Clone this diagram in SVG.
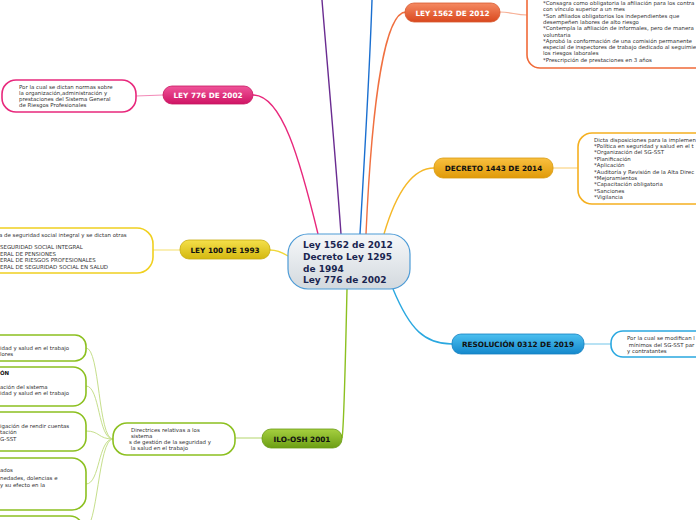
<svg xmlns="http://www.w3.org/2000/svg" width="696" height="520" viewBox="0 0 696 520">
<defs>
<linearGradient id="gC" x1="0" y1="0" x2="0" y2="1"><stop offset="0" stop-color="#f6f8fa"/><stop offset="1" stop-color="#d3d9de"/></linearGradient>
<linearGradient id="gO" x1="0" y1="0" x2="0" y2="1"><stop offset="0" stop-color="#f58a62"/><stop offset="1" stop-color="#d9481e"/></linearGradient>
<linearGradient id="gP" x1="0" y1="0" x2="0" y2="1"><stop offset="0" stop-color="#f0559a"/><stop offset="1" stop-color="#cf1464"/></linearGradient>
<linearGradient id="gY" x1="0" y1="0" x2="0" y2="1"><stop offset="0" stop-color="#f5e04a"/><stop offset="1" stop-color="#d4b810"/></linearGradient>
<linearGradient id="gD" x1="0" y1="0" x2="0" y2="1"><stop offset="0" stop-color="#f9c040"/><stop offset="1" stop-color="#e09a08"/></linearGradient>
<linearGradient id="gB" x1="0" y1="0" x2="0" y2="1"><stop offset="0" stop-color="#4cc0f0"/><stop offset="1" stop-color="#1488cc"/></linearGradient>
<linearGradient id="gG" x1="0" y1="0" x2="0" y2="1"><stop offset="0" stop-color="#a6d040"/><stop offset="1" stop-color="#6c9e14"/></linearGradient>
</defs>
<style>
.lab{font-family:"DejaVu Sans",Verdana,sans-serif;font-weight:bold;font-size:7.3px;text-anchor:middle}
.w{fill:#ffffff}.k{fill:#111111}
.sm{font-family:"DejaVu Sans",Verdana,sans-serif;font-size:5.45px;fill:#333333}
.det{fill:#ffffff;stroke-width:1.6}
.c{fill:none;stroke-width:1.4}
.cl{fill:none;stroke-width:1.2;opacity:.55}
.gl{fill:none;stroke:#c6df8c;stroke-width:1}
</style>
<g id="connectors">
<path class="c" stroke="#6a2c91" d="M341,234 C335,150 326,50 322,0"/>
<path class="c" stroke="#1a6fd0" d="M360,234 C365,150 370,60 372,0"/>
<path class="c" stroke="#f07040" d="M366,234 C372,100 385,12 406,12"/>
<path class="c" stroke="#e8287c" d="M318,234 C300,160 282,95 253,95"/>
<path class="c" stroke="#f0d838" d="M288,256 C280,251 276,250 270,250"/>
<path class="c" stroke="#f5b828" d="M384,234 C394,200 410,168 434,168"/>
<path class="c" stroke="#2aa8e0" d="M393,289 C410,330 425,344 452,344"/>
<path class="c" stroke="#8cc020" d="M347,289 C345,380 344,430 342,438"/>
<path class="cl" stroke="#f07040" d="M500,12 C512,12 515,15 527,15"/>
<path class="cl" stroke="#e8287c" d="M163,95 L136,96"/>
<path class="cl" stroke="#f0d020" d="M180,250 L153,250"/>
<path class="cl" stroke="#f5b020" d="M553,168 L578,168"/>
<path class="cl" stroke="#2aa8e0" d="M584,344 L611,344"/>
<path class="cl" stroke="#8cc020" d="M262,438 L235,438"/>
<path class="gl" d="M113,439 C98,439 100,348 86,348"/>
<path class="gl" d="M113,439 C98,439 100,386 86,386"/>
<path class="gl" d="M113,439 C98,439 100,431 86,431"/>
<path class="gl" d="M113,439 C98,439 100,484 86,484"/>
<path class="gl" d="M113,439 C98,439 98,530 84,530"/>
</g>
<g id="center">
<rect x="288" y="234" width="122" height="55" rx="20" fill="url(#gC)" stroke="#4d9bd6" stroke-width="1.2"/>
<text font-family="DejaVu Sans,Verdana,sans-serif" font-weight="bold" font-size="9" fill="#1a2550"><tspan x="303" y="248">Ley 1562 de 2012</tspan><tspan x="303" y="260">Decreto Ley 1295</tspan><tspan x="303" y="272">de 1994</tspan><tspan x="303" y="283">Ley 776 de 2002</tspan></text>
</g>
<g id="ley1562">
<rect x="405" y="3" width="95" height="19" rx="9" fill="url(#gO)" stroke="#d85a30" stroke-width=".8"/>
<text class="lab w" x="452.5" y="15.5">LEY 1562 DE 2012</text>
<rect class="det" x="527" y="-12" width="190" height="80" rx="13" stroke="#f06a38"/>
<text class="sm"><tspan x="543" y="5">*Consagra como obligatoria la afiliación para los contra</tspan><tspan x="543" y="11.3">con vínculo superior a un mes</tspan><tspan x="543" y="17.6">*Son afiliados obligatorios los independientes que</tspan><tspan x="543" y="23.9">desempeñen labores de alto riesgo</tspan><tspan x="543" y="30.2">*Contempla la afiliación de informales, pero de manera</tspan><tspan x="543" y="36.5">voluntaria</tspan><tspan x="543" y="42.8">*Aprobó la conformación de una comisión permanente</tspan><tspan x="543" y="49.1">especial de inspectores de trabajo dedicado al seguimie</tspan><tspan x="543" y="55.4">los riesgos laborales</tspan><tspan x="543" y="61.7">*Prescripción de prestaciones en 3 años</tspan></text>
</g>
<g id="ley776">
<rect x="163" y="86" width="90" height="18" rx="9" fill="url(#gP)" stroke="#c81460" stroke-width=".8"/>
<text class="lab w" x="208" y="98">LEY 776 DE 2002</text>
<rect class="det" x="2" y="80" width="134" height="32" rx="14" stroke="#e8287c"/>
<text class="sm"><tspan x="19" y="89">Por la cual se dictan normas sobre</tspan><tspan x="19" y="95">la organización,administración y</tspan><tspan x="19" y="101">prestaciones del Sistema General</tspan><tspan x="19" y="107">de Riesgos Profesionales</tspan></text>
</g>
<g id="ley100">
<rect x="180" y="240" width="90" height="19" rx="9" fill="url(#gY)" stroke="#c8ac10" stroke-width=".8"/>
<text class="lab k" x="225" y="252.5">LEY 100 DE 1993</text>
<rect class="det" x="-40" y="228" width="193" height="45" rx="16" stroke="#f0d020"/>
<text class="sm"><tspan x="-1" y="237">a de seguridad social integral y se dictan otras</tspan><tspan x="0" y="249">SEGURIDAD SOCIAL INTEGRAL</tspan><tspan x="0" y="255.5">ERAL DE PENSIONES</tspan><tspan x="0" y="262">ERAL DE RIESGOS PROFESIONALES</tspan><tspan x="0" y="268.5">ERAL DE SEGURIDAD SOCIAL EN SALUD</tspan></text>
</g>
<g id="decreto1443">
<rect x="434" y="158" width="119" height="20" rx="9" fill="url(#gD)" stroke="#d89a10" stroke-width=".8"/>
<text class="lab k" x="493.5" y="171">DECRETO 1443 DE 2014</text>
<rect class="det" x="578" y="133" width="140" height="71" rx="14" stroke="#f5b020"/>
<text class="sm"><tspan x="594" y="141.5">Dicta disposiciones para la implemen</tspan><tspan x="594" y="148">*Política en seguridad y salud en el t</tspan><tspan x="594" y="154.4">*Organización del SG-SST</tspan><tspan x="594" y="160.8">*Planificación</tspan><tspan x="594" y="167.2">*Aplicación</tspan><tspan x="594" y="173.6">*Auditoría y Revisión de la Alta Direc</tspan><tspan x="594" y="180">*Mejoramientos</tspan><tspan x="594" y="186.4">*Capacitación obligatoria</tspan><tspan x="594" y="192.8">*Sanciones</tspan><tspan x="594" y="199.2">*Vigilancia</tspan></text>
</g>
<g id="resolucion0312">
<rect x="452" y="334" width="132" height="20" rx="9" fill="url(#gB)" stroke="#1480c0" stroke-width=".8"/>
<text class="lab k" x="518" y="347">RESOLUCIÓN 0312 DE 2019</text>
<rect class="det" x="611" y="331" width="110" height="26" rx="12" stroke="#2aa8e0"/>
<text class="sm"><tspan x="627" y="340">Por la cual se modifican l</tspan><tspan x="627" y="346.5"> mínimos del SG-SST par</tspan><tspan x="627" y="353">y contratantes</tspan></text>
</g>
<g id="ilo">
<rect x="262" y="429" width="80" height="19" rx="9" fill="url(#gG)" stroke="#6a9a14" stroke-width=".8"/>
<text class="lab k" x="302" y="441.5">ILO-OSH 2001</text>
<rect class="det" x="113" y="423" width="122" height="32" rx="14" stroke="#8cc020"/>
<text class="sm"><tspan x="131" y="431.5">Directrices relativas a los</tspan><tspan x="131" y="437.5">sistema</tspan><tspan x="129" y="444">s de gestión de la seguridad y</tspan><tspan x="129" y="450"> la salud en el trabajo</tspan></text>
</g>
<g id="ilo-a">
<rect class="det" x="-60" y="335" width="146" height="26" rx="11" stroke="#8cc020"/>
<text class="sm"><tspan x="0" y="349.5">idad y salud en el trabajo</tspan><tspan x="0" y="356">lores</tspan></text>
</g>
<g id="ilo-b">
<rect class="det" x="-60" y="367" width="146" height="39" rx="13" stroke="#8cc020"/>
<text class="sm"><tspan x="0" y="374.5" font-weight="bold" fill="#111">ÓN</tspan><tspan x="0" y="388.5">ación del sistema</tspan><tspan x="0" y="395">idad y salud en el trabajo</tspan></text>
</g>
<g id="ilo-c">
<rect class="det" x="-60" y="412" width="146" height="39" rx="13" stroke="#8cc020"/>
<text class="sm"><tspan x="0" y="427.5">igación de rendir cuentas</tspan><tspan x="0" y="434">tación</tspan><tspan x="0" y="440.5">G-SST</tspan></text>
</g>
<g id="ilo-d">
<rect class="det" x="-60" y="458" width="146" height="52" rx="14" stroke="#8cc020"/>
<text class="sm"><tspan x="0" y="472">ados</tspan><tspan x="0" y="479.5">nedades, dolencias e</tspan><tspan x="0" y="486.5">y su efecto en la</tspan></text>
</g>
<g id="ilo-e">
<rect class="det" x="-60" y="516" width="143" height="40" rx="13" stroke="#8cc020"/>
</g>
</svg>
